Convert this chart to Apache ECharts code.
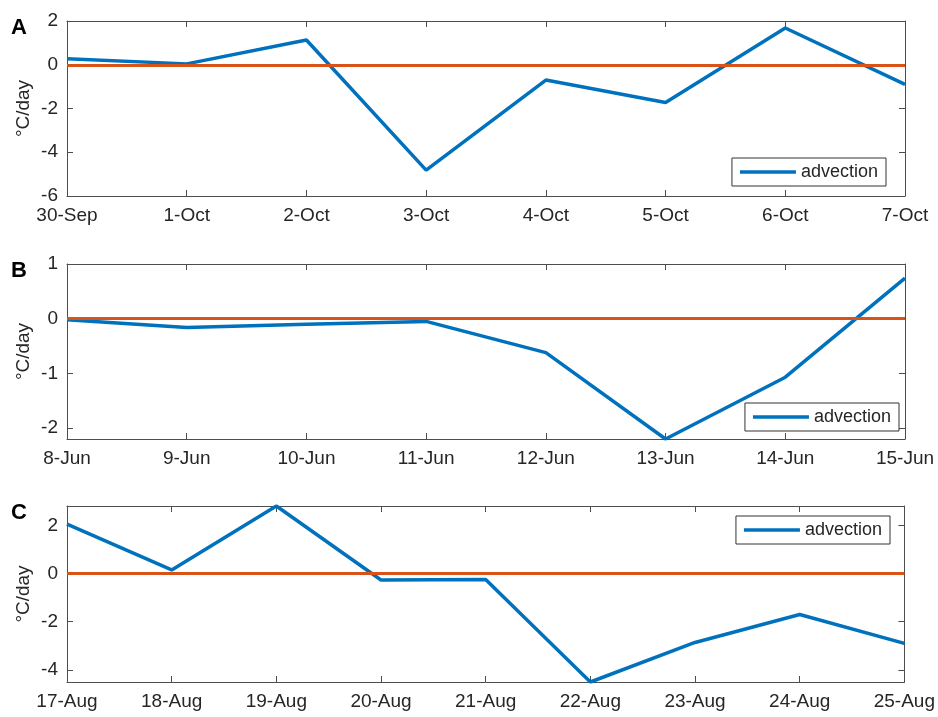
<!DOCTYPE html>
<html>
<head>
<meta charset="utf-8">
<script src="https://cdn.jsdelivr.net/npm/echarts@6/dist/echarts.min.js"></script>
<style>
html, body { margin: 0; padding: 0; background: #fff; }
#chart { width: 938px; height: 717px; }
</style>
</head>
<body>
<div id="chart"></div>
<script>
// panel A
var daysA = ['30-Sep', '1-Oct', '2-Oct', '3-Oct', '4-Oct', '5-Oct', '6-Oct', '7-Oct'];
var advA = [0.27, 0.04, 1.13, -4.82, -0.7, -1.73, 1.68, -0.9];
// panel B
var daysB = ['8-Jun', '9-Jun', '10-Jun', '11-Jun', '12-Jun', '13-Jun', '14-Jun', '15-Jun'];
var advB = [-0.02, -0.16, -0.1, -0.05, -0.62, -2.2, -1.07, 0.74];
// panel C
var daysC = ['17-Aug', '18-Aug', '19-Aug', '20-Aug', '21-Aug', '22-Aug', '23-Aug', '24-Aug', '25-Aug'];
var advC = [2.05, 0.15, 2.8, -0.27, -0.25, -4.5, -2.86, -1.7, -2.9];

var ticksA = [-6, -4, -2, 0, 2];
var ticksB = [-2, -1, 0, 1];
var ticksC = [-4, -2, 0, 2];

var font = 'Liberation Sans, Arial, sans-serif';
var axisCol = '#4d4d4d';
var textCol = '#262626';
var blue = '#0072BD';
var orange = '#D95319';

var grids = [
    {left: 67, right: 33, top: 21, height: 175},
    {left: 67, right: 33, top: 264, height: 175},
    {left: 67, right: 33, top: 506, height: 176}
];

var panels = [
    {days: daysA, vals: advA, min: -6, max: 2, ticks: ticksA, letter: 'A', legendTop: 158, legendRight: 52},
    {days: daysB, vals: advB, min: -2.2, max: 1, ticks: ticksB, letter: 'B', legendTop: 403, legendRight: 39},
    {days: daysC, vals: advC, min: -4.5, max: 2.8, ticks: ticksC, letter: 'C', legendTop: 516, legendRight: 48}
];

var xAxes = [], yAxes = [], series = [], legends = [], graphics = [];

panels.forEach(function (p, i) {
    // bottom / left axes with labels
    xAxes.push({
        type: 'category', gridIndex: i, data: p.days, boundaryGap: false,
        axisLine: {onZero: false, lineStyle: {color: axisCol, width: 1}},
        axisTick: {inside: true, length: 6, lineStyle: {color: axisCol}},
        axisLabel: {interval: 0, color: textCol, fontFamily: font, fontSize: 19, margin: 10},
        splitLine: {show: false}
    });
    yAxes.push({
        type: 'value', gridIndex: i, min: p.min, max: p.max,
        name: '°C/day', nameLocation: 'middle', nameGap: 34, nameMoveOverlap: false,
        nameTextStyle: {color: textCol, fontFamily: font, fontSize: 19},
        axisLine: {show: true, onZero: false, lineStyle: {color: axisCol, width: 1}},
        axisTick: {show: true, inside: true, length: 6, customValues: p.ticks, lineStyle: {color: axisCol}},
        axisLabel: {color: textCol, fontFamily: font, fontSize: 19, margin: 9, customValues: p.ticks},
        splitLine: {show: false}
    });
    series.push({
        name: 'advection', type: 'line', xAxisIndex: i, yAxisIndex: i,
        data: p.vals, symbol: 'none', z: 2,
        lineStyle: {color: blue, width: 3.5}, itemStyle: {color: blue},
        markLine: {
            silent: true, symbol: 'none', label: {show: false},
            lineStyle: {color: orange, width: 3, type: 'solid'},
            data: [{yAxis: 0}]
        }
    });
    legends.push({
        data: ['advection'], top: p.legendTop, right: p.legendRight,
        orient: 'horizontal', itemWidth: 56, itemHeight: 10, itemGap: 4,
        padding: [5, 8, 5, 8], borderColor: '#333', borderWidth: 1, backgroundColor: '#fff',
        textStyle: {color: textCol, fontFamily: font, fontSize: 18},
        icon: 'path://M0,3.5 L56,3.5 L56,7 L0,7 Z'
    });
    graphics.push({
        type: 'text', left: 11, top: grids[i].top - 4,
        style: {text: p.letter, fill: '#000', font: 'bold 22px ' + font}
    });
});

// top / right axes for the box with inward ticks
panels.forEach(function (p, i) {
    xAxes.push({
        type: 'category', gridIndex: i, data: p.days, boundaryGap: false, position: 'top',
        axisLine: {onZero: false, lineStyle: {color: axisCol, width: 1}},
        axisTick: {inside: true, length: 6, lineStyle: {color: axisCol}},
        axisLabel: {show: false}, splitLine: {show: false}
    });
    yAxes.push({
        type: 'value', gridIndex: i, min: p.min, max: p.max, position: 'right',
        axisLine: {show: true, onZero: false, lineStyle: {color: axisCol, width: 1}},
        axisTick: {show: true, inside: true, length: 6, customValues: p.ticks, lineStyle: {color: axisCol}},
        axisLabel: {show: false}, splitLine: {show: false}
    });
});

var chart = echarts.init(document.getElementById('chart'));
chart.setOption({
    animation: false,
    backgroundColor: '#fff',
    grid: grids,
    xAxis: xAxes,
    yAxis: yAxes,
    legend: legends,
    series: series,
    graphic: graphics
});
</script>
</body>
</html>
